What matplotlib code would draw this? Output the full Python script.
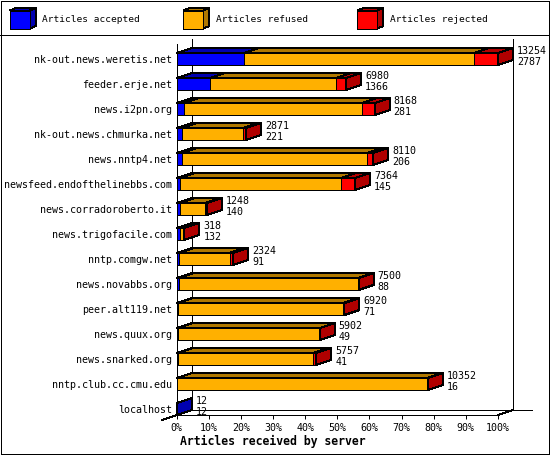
import matplotlib
matplotlib.use("Agg")
import matplotlib.pyplot as plt
from matplotlib.patches import Polygon, Rectangle

# ---- data -------------------------------------------------------------
hosts = [
    "nk-out.news.weretis.net", "feeder.erje.net", "news.i2pn.org",
    "nk-out.news.chmurka.net", "news.nntp4.net", "newsfeed.endofthelinebbs.com",
    "news.corradoroberto.it", "news.trigofacile.com", "nntp.comgw.net",
    "news.novabbs.org", "peer.alt119.net", "news.quux.org",
    "news.snarked.org", "nntp.club.cc.cmu.edu", "localhost",
]
offered = [13254, 6980, 8168, 2871, 8110, 7364, 1248, 318, 2324,
           7500, 6920, 5902, 5757, 10352, 12]
accepted = [2787, 1366, 281, 221, 206, 145, 140, 132, 91,
            88, 71, 49, 41, 16, 12]
refused = [9477, 5201, 7358, 2530, 7636, 6639, 1028, 126, 2088,
           7397, 6789, 5848, 5596, 10331, 0]
rejected = [990, 413, 529, 120, 268, 580, 80, 60, 145,
            15, 60, 5, 120, 5, 0]

series_names = ["Articles accepted", "Articles refused", "Articles rejected"]
face_colors = ["#0000ff", "#ffb000", "#ff0000"]
dark_colors = ["#0000b0", "#b07800", "#b00000"]

x_ticks = list(range(0, 101, 10))
x_tick_labels = [f"{t}%" for t in x_ticks]
x_title = "Articles received by server"

# ---- figure / layout ----------------------------------------------------
W, H = 550, 455
DPI = 100
LW = 72 / DPI          # one pixel in points
FONT = "DejaVu Sans Mono"

plt.rcParams["patch.antialiased"] = False
plt.rcParams["lines.antialiased"] = False

fig = plt.figure(figsize=(W / DPI, H / DPI), dpi=DPI)
fig.patch.set_facecolor("white")

# plot area in pixels (front plane)
ax_left, ax_right = 176.7, 498.0
ax_top, ax_bottom = 44.0, 415.0
ax = fig.add_axes([ax_left / W, 1 - ax_bottom / H,
                   (ax_right - ax_left) / W, (ax_bottom - ax_top) / H])
n = len(hosts)
HALF = 0.24                          # half bar thickness in rows
ax.set_xlim(0, 100)
ax.set_ylim(n - 1 + HALF, -0.6)
ax.patch.set_visible(False)

px_per_x = (ax_right - ax_left) / 100.0
px_per_row = (ax_bottom - ax_top) / (n - 1 + HALF + 0.6)
DX = 15 / px_per_x                   # depth offset, x data units
DY = 5 / px_per_row                  # depth offset, row units (upwards)

max_total = max(offered)

for i in range(n):
    segs = [accepted[i], refused[i], rejected[i]]
    x = 0.0
    last_dark = dark_colors[0]
    top = i - HALF
    bot = i + HALF
    for k, v in enumerate(segs):
        w = v / max_total * 100.0
        if v <= 0:
            continue
        ax.add_patch(Rectangle((x, top), w, 2 * HALF, facecolor=face_colors[k],
                               edgecolor="black", lw=LW, clip_on=False, zorder=3))
        ax.add_patch(Polygon([(x, top), (x + w, top), (x + w + DX, top - DY),
                              (x + DX, top - DY)], closed=True,
                             facecolor=dark_colors[k], edgecolor="black",
                             lw=LW, clip_on=False, zorder=3))
        x += w
        last_dark = dark_colors[k]
    ax.add_patch(Polygon([(x, top), (x + DX, top - DY), (x + DX, bot - DY),
                          (x, bot)], closed=True, facecolor=last_dark,
                         edgecolor="black", lw=LW, clip_on=False, zorder=4))
    tx = x + DX + 4 / px_per_x
    ax.text(tx, bot - 11 / px_per_row, f"{offered[i]}", family=FONT,
            fontsize=7.2, va="baseline", ha="left", zorder=5)
    ax.text(tx, bot, f"{accepted[i]}", family=FONT,
            fontsize=7.2, va="baseline", ha="left", zorder=5)

# walls and floor
floor = n - 1 + HALF
wall_top = -0.6
ax.plot([DX, DX], [wall_top - DY, floor - DY], color="black", lw=LW,
        clip_on=False, zorder=1)
ax.plot([100 + DX, 100 + DX], [wall_top - DY, floor - DY], color="black",
        lw=LW, clip_on=False, zorder=1)
ax.plot([DX, 100 + DX + 19 / px_per_x], [floor - DY, floor - DY],
        color="black", lw=LW, clip_on=False, zorder=1)
ax.plot([100, 100 + DX], [floor, floor - DY], color="black", lw=LW,
        clip_on=False, zorder=1)
ax.plot([-DX, DX], [floor + DY, floor - DY], color="black", lw=LW,
        clip_on=False, zorder=1)

for side in ("top", "right"):
    ax.spines[side].set_visible(False)
for side in ("left", "bottom"):
    ax.spines[side].set_linewidth(LW)
    ax.spines[side].set_zorder(6)

ax.set_xticks(x_ticks)
ax.set_xticklabels(x_tick_labels, family=FONT, fontsize=7.2)
ax.tick_params(axis="x", length=4 * LW, width=LW, pad=2.6, direction="out")
ax.set_yticks(range(n))
ax.set_yticklabels(hosts, family=FONT, fontsize=7.2)
ax.tick_params(axis="y", length=0, pad=3.6)

fig.text(180 / W, 1 - 441.5 / H, x_title, family=FONT, fontsize=8.3,
         fontweight="bold", ha="left", va="center")

# ---- legend band and frame (pixel coordinates) --------------------------
lax = fig.add_axes([0, 0, 1, 1], zorder=-1)
lax.set_xlim(0, W)
lax.set_ylim(H, 0)
lax.axis("off")
lax.add_patch(Rectangle((0.5, 0.5), W - 1.5, H - 1.5, fill=False,
                        edgecolor="black", lw=LW))
lax.plot([0, W], [35, 35], color="black", lw=LW)

legend_x = [10, 183.3, 357.3]
for k, name in enumerate(series_names):
    x0 = legend_x[k]
    y0, s_w, s_h, dx, dy = 10.5, 20, 18, 6, 2.5
    lax.add_patch(Polygon([(x0, y0), (x0 + s_w, y0), (x0 + s_w + dx, y0 - dy),
                           (x0 + dx, y0 - dy)], closed=True,
                          facecolor=dark_colors[k], edgecolor="black", lw=LW))
    lax.add_patch(Polygon([(x0 + s_w, y0), (x0 + s_w + dx, y0 - dy),
                           (x0 + s_w + dx, y0 + s_h - dy), (x0 + s_w, y0 + s_h)],
                          closed=True, facecolor=dark_colors[k],
                          edgecolor="black", lw=LW))
    lax.add_patch(Rectangle((x0, y0), s_w, s_h, facecolor=face_colors[k],
                            edgecolor="black", lw=LW))
    lax.text(x0 + 32.3, 20, name, family=FONT, fontsize=6.8,
             ha="left", va="center")

fig.savefig("out.png", dpi=DPI)
